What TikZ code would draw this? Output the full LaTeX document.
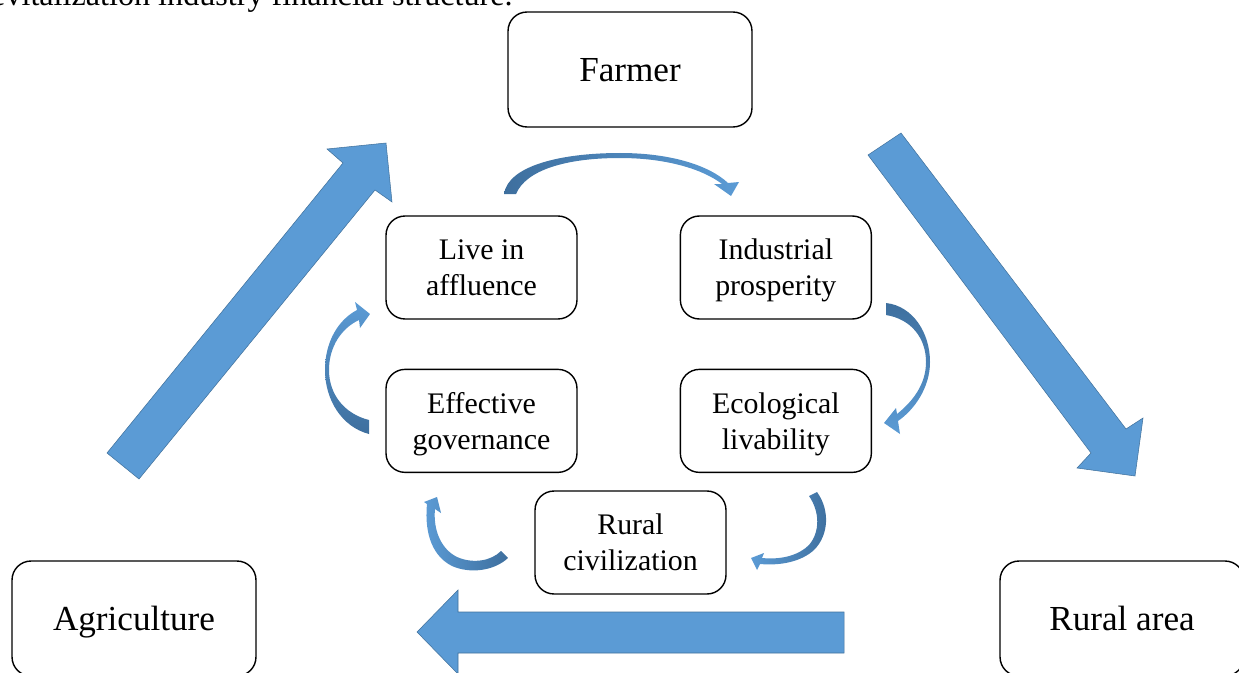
\documentclass[tikz,border=0pt]{standalone}
\usepackage{fontspec}
\setmainfont{Liberation Serif}
\usetikzlibrary{positioning}
\definecolor{arrowblue}{HTML}{5B9BD5}
\definecolor{arrowline}{HTML}{41719C}
\definecolor{arrowdark}{HTML}{3E6F9E}

\begin{document}
\begin{tikzpicture}[x=0.02cm, y=-0.02cm,
    box/.style={draw, line width=0.8pt, rounded corners=0.38cm, align=center, text depth=0pt,
        minimum width=3.82cm, minimum height=2.06cm, font=\fontsize{17}{20.5}\selectfont},
    bigbox/.style={box, minimum width=4.88cm, minimum height=2.3cm, font=\fontsize{20}{24}\selectfont},
    blockarrow/.style={fill=arrowblue, draw=arrowline, line width=0.3pt}]
    \useasboundingbox (0,0) rectangle (1239,672);
    \clip (0,0) rectangle (1239,672);
    \node[anchor=base east, inner sep=0, font=\fontsize{18.3}{22}\selectfont] (caption) at (513,6) {revitalization industry financial structure.};
    % boxes
    \node[bigbox] (farmer) at (630,69.5) {Farmer};
    \node[bigbox] (agri) at (134,618.5) {Agriculture};
    \node[bigbox] (rural) at (1122,618.5) {Rural area};
    \node[box] (live) at (481.5,267.5) {Live in\\affluence};
    \node[box, right=2.04cm of live] (industry) {Industrial\\prosperity};
    \node[box, below=0.98cm of live] (govern) {Effective\\governance};
    \node[box, below=0.98cm of industry] (eco) {Ecological\\livability};
    \node[box] (civil) at (630.5,542.5) {Rural\\civilization};
    % big arrows
    \draw[blockarrow] (107,453) -- (343,163) -- (327,149) -- (386,143) -- (392,202) -- (375,190) -- (139,479) -- cycle;
    \draw[blockarrow] (868,155) -- (1091,453) -- (1077,468) -- (1135,476) -- (1143,418) -- (1126,429) -- (901,133) -- cycle;
    \draw[blockarrow] (844,612) -- (458,612) -- (458,590) -- (417,632) -- (458,674) -- (458,653) -- (844,653) -- cycle;
    % curved arrows
    \shade[left color=arrowdark, right color=arrowblue]
        (504,194) .. controls (508,166) and (560,153) .. (620,153)
        .. controls (672,153) and (710,166) .. (728,183)
        -- (739,182) -- (731,196) -- (714,184) -- (722,184)
        .. controls (704,170) and (668,158) .. (620,158)
        .. controls (566,158) and (526,170) .. (516,194) -- cycle;
    \shade[top color=arrowblue, bottom color=arrowdark]
        (369,434) .. controls (342,427) and (325,400) .. (325,370)
        .. controls (325,342) and (338,320) .. (357,310)
        -- (355,302) -- (370,314) -- (360,328) -- (359,320)
        .. controls (342,328) and (329,346) .. (329,370)
        .. controls (329,395) and (345,414) .. (369,420) -- cycle;
    \shade[top color=arrowdark, bottom color=arrowblue]
        (886,303) .. controls (913,306) and (930,333) .. (930,362)
        .. controls (930,388) and (914,410) .. (898,421)
        -- (900,434) -- (884,423) -- (896,408) -- (897,414)
        .. controls (912,402) and (926,385) .. (926,362)
        .. controls (926,338) and (911,319) .. (886,315) -- cycle;
    \shade[left color=arrowblue, right color=arrowdark]
        (508,558) .. controls (494,571) and (470,574) .. (452,566)
        .. controls (434,557) and (424,536) .. (427,504)
        -- (424,502) -- (437,497) -- (441,513) -- (435,509)
        .. controls (433,530) and (441,549) .. (457,557)
        .. controls (473,564) and (491,561) .. (501,551) -- cycle;
    \shade[left color=arrowblue, right color=arrowdark]
        (817,492) .. controls (830,510) and (829,535) .. (814,550)
        .. controls (802,561) and (782,566) .. (760,564)
        -- (757,570) -- (751,558) -- (764,553) -- (762,558)
        .. controls (782,560) and (799,555) .. (809,545)
        .. controls (820,532) and (820,512) .. (809,496) -- cycle;
\end{tikzpicture}
\end{document}
